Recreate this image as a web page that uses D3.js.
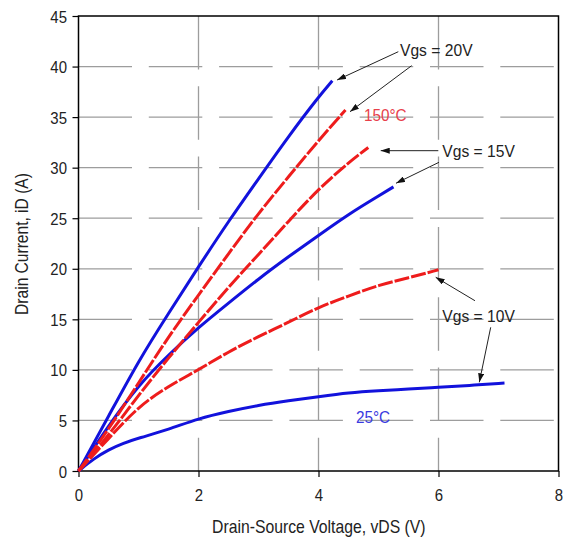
<!DOCTYPE html>
<html><head><meta charset="utf-8">
<script src="https://cdn.jsdelivr.net/npm/d3@7"></script>
<style>
body{margin:0;background:#fff}
svg{display:block}
text{font-family:"Liberation Sans",Arial,Helvetica,sans-serif;fill:#222}
</style>
</head><body>
<svg id="chart" width="563" height="549"></svg>
<script>
// ---- data (Vds in V, Id in A) ----
const xTicks = [0, 2, 4, 6, 8];
const yTicks = [0, 5, 10, 15, 20, 25, 30, 35, 40, 45];

const blue20 = [[0,0],[0.5,5.4],[1,10.9],[1.5,15.6],[2,20.2],[2.5,24.7],[3,28.9],[3.5,33.1],[4,37.0],[4.23,38.6]];
const blue15 = [[0,0],[0.5,4.5],[1,8.5],[1.5,11.5],[2,14.2],[2.5,16.6],[3,19.0],[3.5,21.2],[4,23.3],[4.5,25.4],[5,27.2],[5.25,28.1]];
const blue10 = [[0,0],[0.25,1.2],[0.5,2.1],[0.75,2.75],[1,3.25],[1.5,4.1],[2,5.2],[2.5,5.9],[3,6.5],[3.5,6.95],[4,7.35],[4.5,7.75],[5,7.95],[5.5,8.1],[6,8.28],[6.5,8.45],[7.1,8.7]];
const red20  = [[0,0],[0.5,4.1],[1,8.7],[1.5,13.3],[2,17.4],[2.5,21.5],[3,25.5],[3.5,29.1],[4,32.7],[4.45,35.7]];
const red15  = [[0,0],[0.5,3.5],[1,7.5],[1.5,11.2],[2,14.7],[2.5,18.2],[3,21.4],[3.5,24.7],[4,27.9],[4.5,30.5],[4.83,32.0]];
const red10  = [[0,0],[0.5,3.2],[1,6.4],[1.5,8.4],[2,10.0],[2.5,11.8],[3,13.3],[3.5,14.7],[4,16.2],[4.5,17.3],[5,18.4],[5.5,19.1],[6,19.9]];

const seriesNames = ["Vgs=20V 25°C","Vgs=15V 25°C","Vgs=10V 25°C","Vgs=20V 150°C","Vgs=15V 150°C","Vgs=10V 150°C"];
const seriesData  = [blue20, blue15, blue10, red20, red15, red10];
const seriesTemp  = [25, 25, 25, 150, 150, 150];

const xTitle = "Drain-Source Voltage, vDS (V)";
const yTitle = "Drain Current, iD (A)";
const noteTexts = ["Vgs = 20V", "150°C", "Vgs = 15V", "Vgs = 10V", "25°C"];

// ---- layout ----
const svg = d3.select("#chart");
const L = 78.5, R = 558.5, T = 16, B = 471;
const x = d3.scaleLinear().domain([0, 8]).range([L, R]);
const y = d3.scaleLinear().domain([0, 45]).range([B, T]);
const BLUE = "#1212dc", RED = "#ee1c1c";

// grid
const grid = svg.append("g").attr("stroke", "#9d9d9d").attr("stroke-width", 1.3)
  .attr("stroke-dasharray", "53.5,16.8");
grid.selectAll(".h").data(yTicks.filter(d => d > 0 && d < 45)).join("line")
  .attr("x1", L).attr("x2", R).attr("y1", d => y(d)).attr("y2", d => y(d));
grid.selectAll(".v").data(xTicks.filter(d => d > 0 && d < 8)).join("line")
  .attr("x1", d => x(d)).attr("x2", d => x(d)).attr("y1", T).attr("y2", B);

// axes
const xa = svg.append("g").attr("transform", `translate(0,${B})`)
  .call(d3.axisBottom(x).tickValues(xTicks).tickSize(6).tickSizeOuter(0));
xa.select(".domain").remove();
xa.selectAll("line").attr("stroke", "#000").attr("stroke-width", 1.2);
xa.selectAll("text").attr("y", 0).attr("dy", 0)
  .attr("transform", "translate(0,29.7) scale(0.88,1)")
  .style("font-size", "17px").attr("fill", "#222");

const ya = svg.append("g").attr("transform", `translate(${L},0)`)
  .call(d3.axisLeft(y).tickValues(yTicks).tickSize(6).tickSizeOuter(0));
ya.select(".domain").remove();
ya.selectAll("line").attr("stroke", "#000").attr("stroke-width", 1.2);
ya.selectAll("text").attr("x", 0).attr("dy", 0).attr("y", 0)
  .attr("transform", "translate(-11.5,6) scale(0.88,1)")
  .style("font-size", "17px").attr("fill", "#222");

// frame
svg.append("rect").attr("x", L).attr("y", T).attr("width", R - L).attr("height", B - T)
  .attr("fill", "none").attr("stroke", "#000").attr("stroke-width", 1.5);

// curves
const line = d3.line().x(d => x(d[0])).y(d => y(d[1])).curve(d3.curveBasis);
svg.append("g").selectAll("path").data(seriesData.map((d, i) => ({d, t: seriesTemp[i], n: seriesNames[i]})))
  .join("path")
  .attr("d", s => line(s.d))
  .attr("fill", "none")
  .attr("stroke", s => s.t === 25 ? BLUE : RED)
  .attr("stroke-width", 3)
  .attr("stroke-dasharray", s => s.t === 25 ? null : "15,2")
  .append("title").text(s => s.n);

// titles
svg.append("text").attr("transform", "translate(318.8,533) scale(0.83,1)")
  .attr("text-anchor", "middle").style("font-size", "19px").text(xTitle);
svg.append("text").attr("transform", "translate(28,244) rotate(-90) scale(0.865,1)")
  .attr("text-anchor", "middle").style("font-size", "18px").text(yTitle);

// annotations
const defs = svg.append("defs");
defs.append("marker").attr("id", "ah").attr("viewBox", "0 0 9 6")
  .attr("refX", 9).attr("refY", 3).attr("markerWidth", 9).attr("markerHeight", 6)
  .attr("markerUnits", "userSpaceOnUse").attr("orient", "auto")
  .append("path").attr("d", "M0,0L9,3L0,6Z").attr("fill", "#111");

const arrows = [
  [[5.33, 41.47], [4.31, 38.67]],
  [[5.553, 40.09], [4.525, 35.54]],
  [[5.997, 31.68], [5.037, 31.68]],
  [[6.008, 30.53], [5.292, 28.46]],
  [[6.608, 16.84], [5.953, 19.16]],
  [[6.87, 14.21], [6.68, 8.77]]
];
svg.append("g").selectAll("line").data(arrows).join("line")
  .attr("x1", a => x(a[0][0])).attr("y1", a => y(a[0][1]))
  .attr("x2", a => x(a[1][0])).attr("y2", a => y(a[1][1]))
  .attr("stroke", "#222").attr("stroke-width", 1)
  .attr("marker-end", "url(#ah)");

const notePos = [[5.358, 41.05], [4.758, 34.65], [6.063, 31.03], [6.063, 14.77], [4.625, 4.78]];
const noteStyle = [
  {size: 17, sx: 0.92, c: "#222"},
  {size: 17, sx: 0.9, c: "#e8404a"},
  {size: 17, sx: 0.92, c: "#222"},
  {size: 17, sx: 0.92, c: "#222"},
  {size: 17, sx: 0.9, c: "#3a3ae0"}
];
noteTexts.forEach((t, i) => {
  const s = noteStyle[i];
  svg.append("text")
    .attr("transform", `translate(${x(notePos[i][0])},${y(notePos[i][1])}) scale(${s.sx},1)`)
    .style("font-size", s.size + "px").style("fill", s.c).text(t);
});
</script>
</body></html>
